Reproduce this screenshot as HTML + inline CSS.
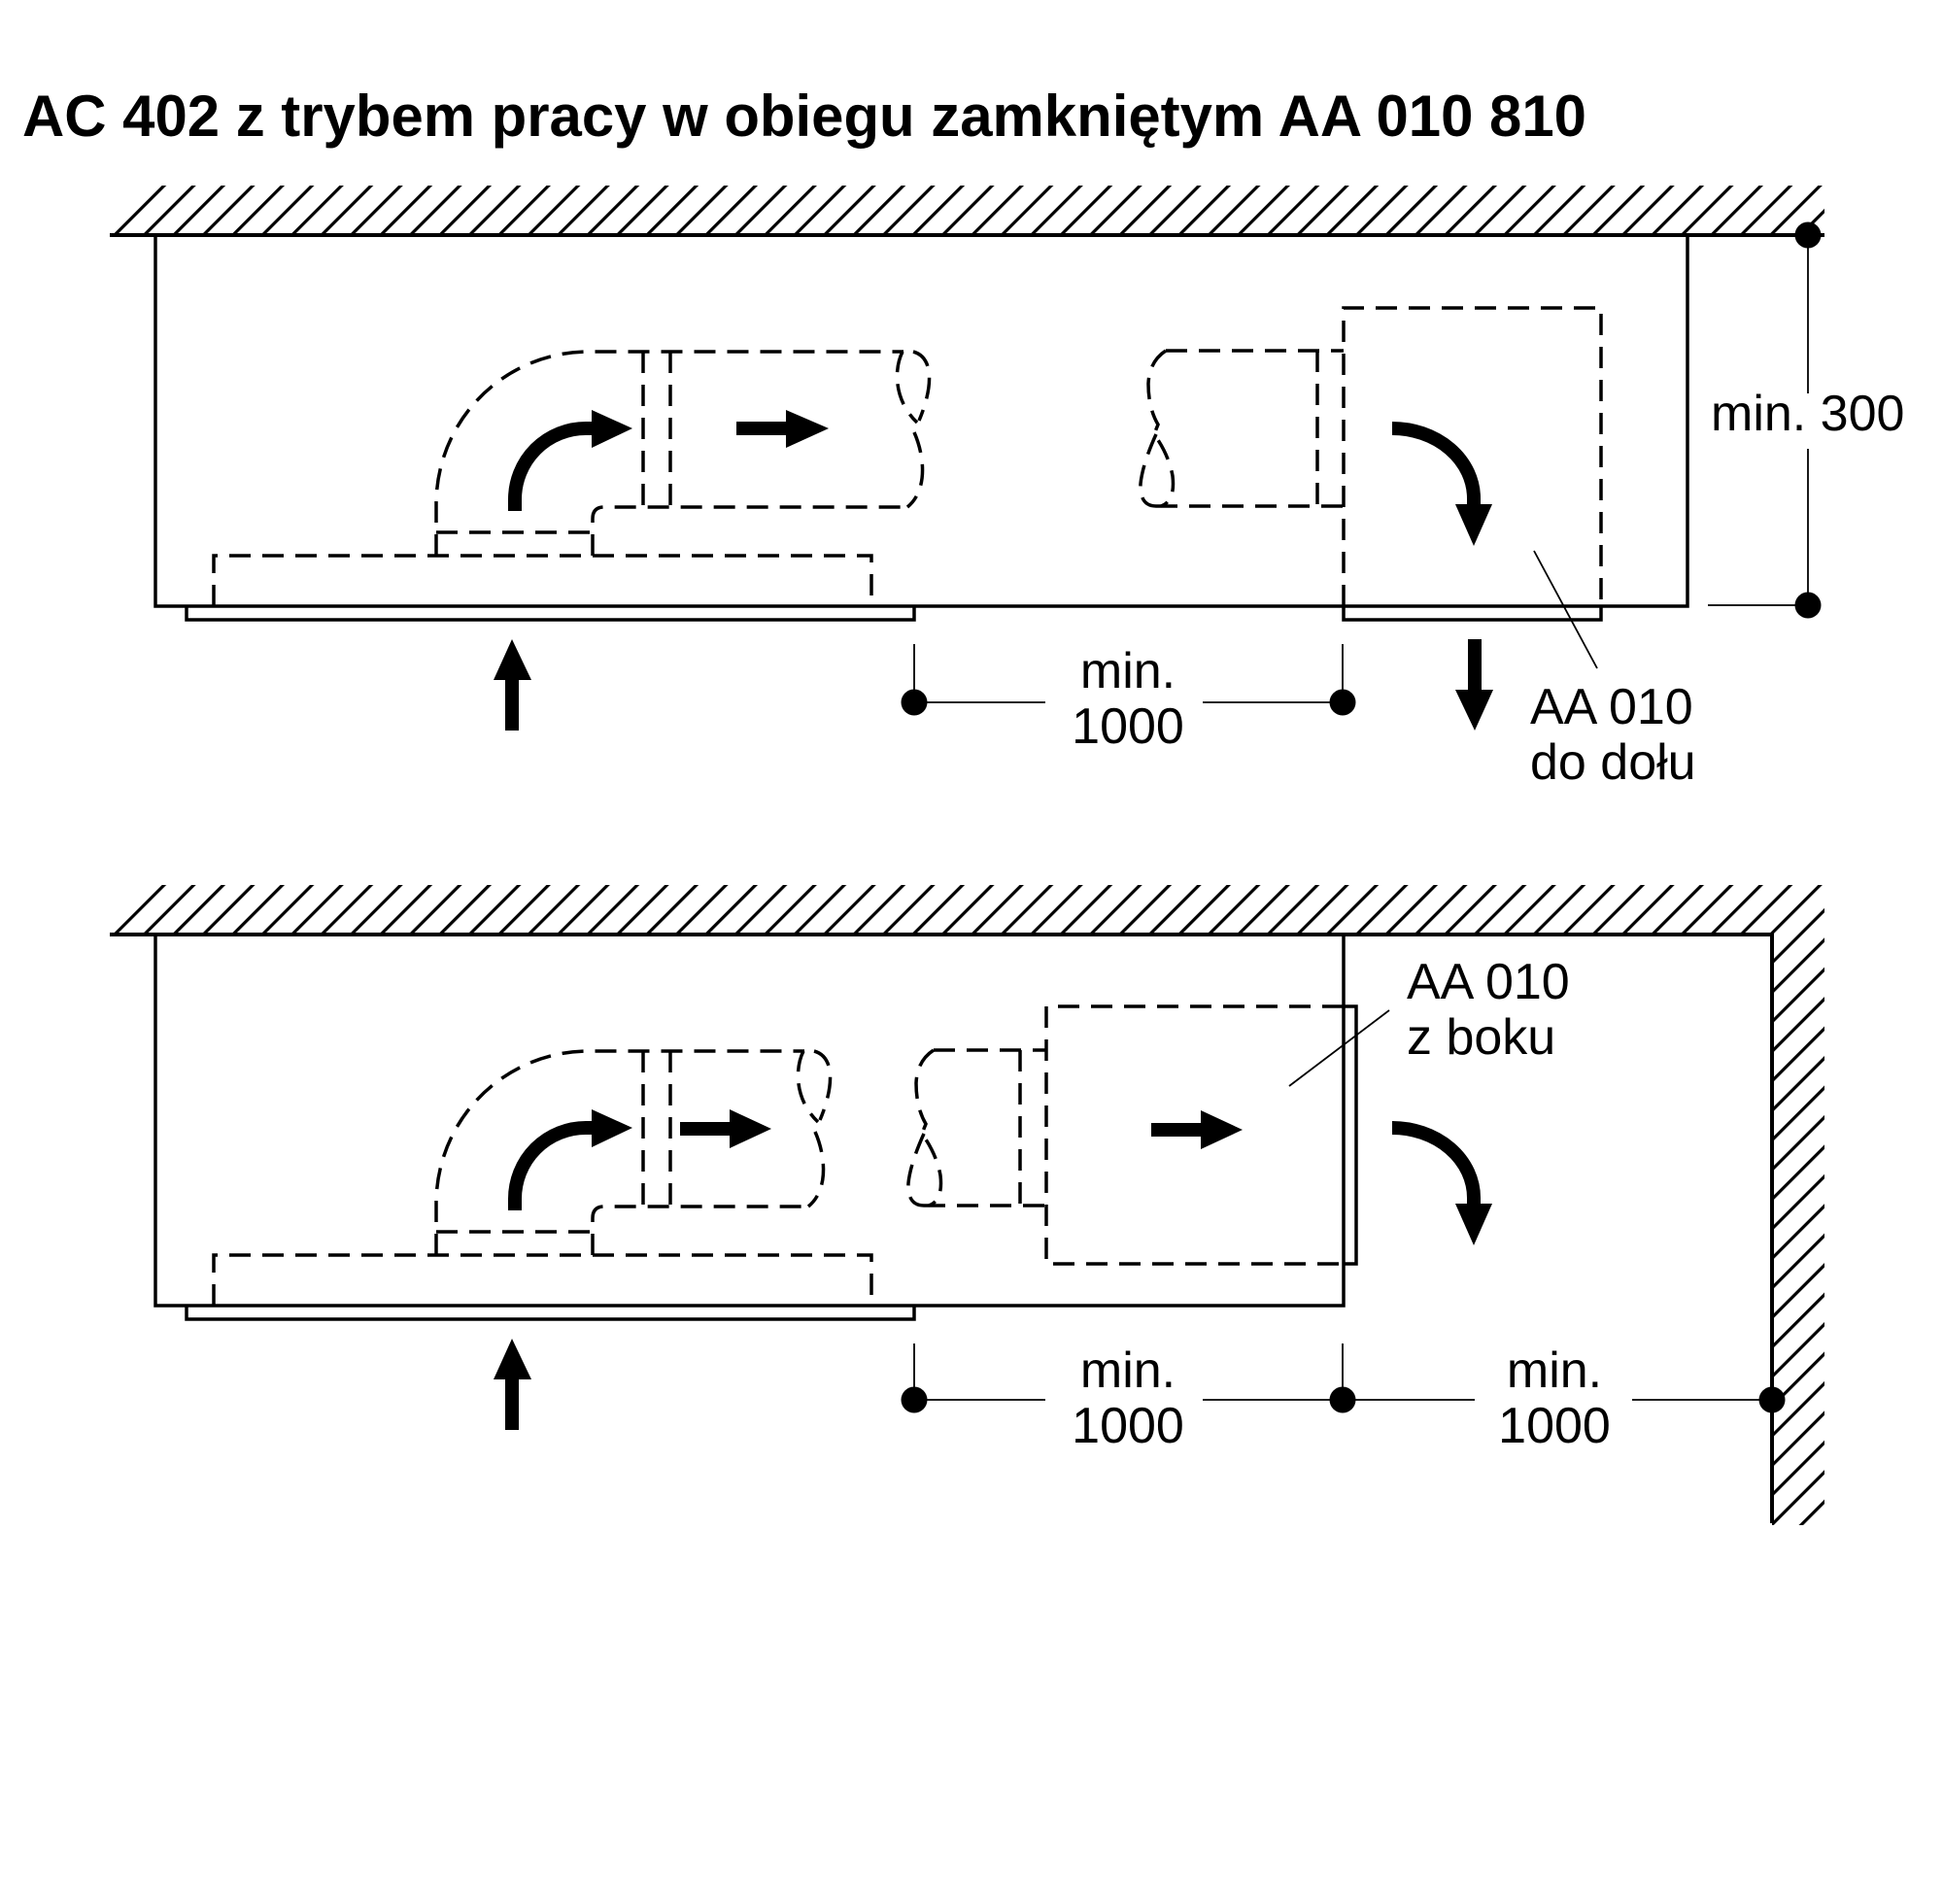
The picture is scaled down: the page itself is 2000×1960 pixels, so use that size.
<!DOCTYPE html>
<html>
<head>
<meta charset="utf-8">
<style>
html,body{margin:0;padding:0;background:#fff;}
svg{display:block;}
text{font-family:"Liberation Sans",Arial,sans-serif;fill:#000;}
</style>
</head>
<body>
<svg width="2000" height="1960" viewBox="0 0 2000 1960" xmlns="http://www.w3.org/2000/svg">
<defs>
  <pattern id="h1" patternUnits="userSpaceOnUse" width="21.524" height="20" patternTransform="rotate(45)">
    <line x1="17.79" y1="-5" x2="17.79" y2="25" stroke="#000" stroke-width="3.2"/>
  </pattern>
  <pattern id="h2" patternUnits="userSpaceOnUse" width="21.524" height="20" patternTransform="rotate(45)">
    <line x1="10.32" y1="-5" x2="10.32" y2="25" stroke="#000" stroke-width="3.2"/>
  </pattern>
</defs>
<rect width="2000" height="1960" fill="#fff"/>

<text x="23" y="140" font-size="60" font-weight="bold" textLength="1610" lengthAdjust="spacingAndGlyphs">AC 402 z trybem pracy w obiegu zamkniętym AA 010 810</text>

<!-- ============ TOP DIAGRAM ============ -->
<polygon points="114,242 165,191 1878,191 1878,242" fill="url(#h1)"/>
<line x1="113" y1="242" x2="1878" y2="242" stroke="#000" stroke-width="4"/>

<g fill="none" stroke="#000" stroke-width="3.5">
  <polyline points="160,242 160,624 1737,624 1737,242"/>
  <polyline points="192,624 192,638 941,638 941,624"/>
  <polyline points="1383,624 1383,638 1648,638 1648,624"/>
</g>

<g fill="none" stroke="#000" stroke-width="3.5" stroke-dasharray="22 12">
  <path d="M220 624 V572 H897 V624"/>
  <path d="M449 548 H610"/>
  <path d="M449 572 V519 A157 157 0 0 1 606 362 H930"/>
  <path d="M610 572 V534 Q610 522 622 522 H934"/>
  <path d="M662 362 V522"/>
  <path d="M690 362 V522"/>
  <path d="M929 362 C920 380 920 412 944 435"/>
  <path d="M940 362 C962 368 960 400 946 433"/>
  <path d="M941 445 C952 470 955 505 934 522"/>
  <path d="M1200 361 H1383"/>
  <path d="M1190 521 H1383"/>
  <path d="M1356 361 V521"/>
  <path d="M1200 361 Q1183 372 1182 395 Q1182 420 1192 437 L1188 447 Q1203 468 1207 490 Q1210 516 1195 521"/>
  <path d="M1190 447 Q1176 478 1174 498 Q1173 521 1190 521"/>
  <path d="M1383 624 V317 H1648 V624"/>
</g>

<path d="M530 526 V514 A73 73 0 0 1 603 441 H612" fill="none" stroke="#000" stroke-width="14"/>
<polygon points="609,422 651,441 609,461" fill="#000"/>
<rect x="758" y="434" width="53" height="14" fill="#000"/>
<polygon points="809,422 853,441 809,461" fill="#000"/>
<path d="M1433 441 A84 72 0 0 1 1517 513 V521" fill="none" stroke="#000" stroke-width="14"/>
<polygon points="1498,519 1536,519 1517,562" fill="#000"/>
<polygon points="527,658 508,700 547,700" fill="#000"/>
<rect x="520" y="699" width="14" height="53" fill="#000"/>
<rect x="1511" y="658" width="14" height="53" fill="#000"/>
<polygon points="1498,710 1537,710 1518,752" fill="#000"/>

<g stroke="#000" stroke-width="1.8" fill="none">
  <line x1="941" y1="663" x2="941" y2="723"/>
  <line x1="1382" y1="663" x2="1382" y2="723"/>
  <line x1="941" y1="723" x2="1076" y2="723"/>
  <line x1="1238" y1="723" x2="1382" y2="723"/>
  <line x1="1861" y1="242" x2="1861" y2="405"/>
  <line x1="1861" y1="462" x2="1861" y2="623"/>
  <line x1="1758" y1="623" x2="1861" y2="623"/>
  <line x1="1579" y1="567" x2="1644" y2="688"/>
</g>
<g fill="#000">
  <circle cx="941" cy="723" r="13.5"/>
  <circle cx="1382" cy="723" r="13.5"/>
  <circle cx="1861" cy="242" r="13.5"/>
  <circle cx="1861" cy="623" r="13.5"/>
</g>
<g font-size="52">
  <text x="1161" y="708" text-anchor="middle">min.</text>
  <text x="1161" y="765" text-anchor="middle">1000</text>
  <text x="1575" y="745">AA 010</text>
  <text x="1575" y="802">do dołu</text>
  <text x="1761" y="443">min. 300</text>
</g>

<!-- ============ BOTTOM DIAGRAM ============ -->
<polygon points="114,962 165,911 1878,911 1878,1570 1824,1570 1824,962" fill="url(#h2)"/>
<polyline points="113,962 1824,962 1824,1568" fill="none" stroke="#000" stroke-width="4"/>

<g fill="none" stroke="#000" stroke-width="3.5">
  <polyline points="160,962 160,1344 1383,1344 1383,962"/>
  <polyline points="192,1344 192,1358 941,1358 941,1344"/>
  <polyline points="1383,1036 1396,1036 1396,1301 1383,1301"/>
</g>

<g fill="none" stroke="#000" stroke-width="3.5" stroke-dasharray="22 12">
  <path d="M220 1344 V1292 H897 V1344"/>
  <path d="M449 1268 H610"/>
  <path d="M449 1292 V1239 A157 157 0 0 1 606 1082 H828"/>
  <path d="M610 1292 V1254 Q610 1242 622 1242 H832"/>
  <path d="M662 1082 V1242"/>
  <path d="M690 1082 V1242"/>
  <path d="M827 1082 C818 1100 818 1132 842 1155"/>
  <path d="M838 1082 C860 1088 858 1120 844 1153"/>
  <path d="M839 1165 C850 1190 853 1225 832 1242"/>
  <path d="M961 1081 H1077"/>
  <path d="M951 1241 H1077"/>
  <path d="M1050 1081 V1241"/>
  <path d="M961 1081 Q944 1092 943 1115 Q943 1140 953 1157 L949 1167 Q964 1188 968 1210 Q971 1236 956 1241"/>
  <path d="M951 1167 Q937 1198 935 1218 Q934 1241 951 1241"/>
  <path d="M1383 1036 H1077 V1301 H1383"/>
</g>

<path d="M530 1246 V1234 A73 73 0 0 1 603 1161 H612" fill="none" stroke="#000" stroke-width="14"/>
<polygon points="609,1142 651,1161 609,1181" fill="#000"/>
<rect x="700" y="1155" width="53" height="14" fill="#000"/>
<polygon points="751,1142 794,1162 751,1182" fill="#000"/>
<rect x="1185" y="1156" width="53" height="14" fill="#000"/>
<polygon points="1236,1143 1279,1163 1236,1183" fill="#000"/>
<path d="M1433 1161 A84 72 0 0 1 1517 1233 V1241" fill="none" stroke="#000" stroke-width="14"/>
<polygon points="1498,1239 1536,1239 1517,1282" fill="#000"/>
<polygon points="527,1378 508,1420 547,1420" fill="#000"/>
<rect x="520" y="1419" width="14" height="53" fill="#000"/>

<g stroke="#000" stroke-width="1.8" fill="none">
  <line x1="941" y1="1383" x2="941" y2="1441"/>
  <line x1="1382" y1="1383" x2="1382" y2="1441"/>
  <line x1="941" y1="1441" x2="1076" y2="1441"/>
  <line x1="1238" y1="1441" x2="1518" y2="1441"/>
  <line x1="1680" y1="1441" x2="1824" y2="1441"/>
  <line x1="1327" y1="1118" x2="1430" y2="1040"/>
</g>
<g fill="#000">
  <circle cx="941" cy="1441" r="13.5"/>
  <circle cx="1382" cy="1441" r="13.5"/>
  <circle cx="1824" cy="1441" r="13.5"/>
</g>
<g font-size="52">
  <text x="1161" y="1428" text-anchor="middle">min.</text>
  <text x="1161" y="1485" text-anchor="middle">1000</text>
  <text x="1600" y="1428" text-anchor="middle">min.</text>
  <text x="1600" y="1485" text-anchor="middle">1000</text>
  <text x="1448" y="1028">AA 010</text>
  <text x="1448" y="1085">z boku</text>
</g>
</svg>
</body>
</html>
